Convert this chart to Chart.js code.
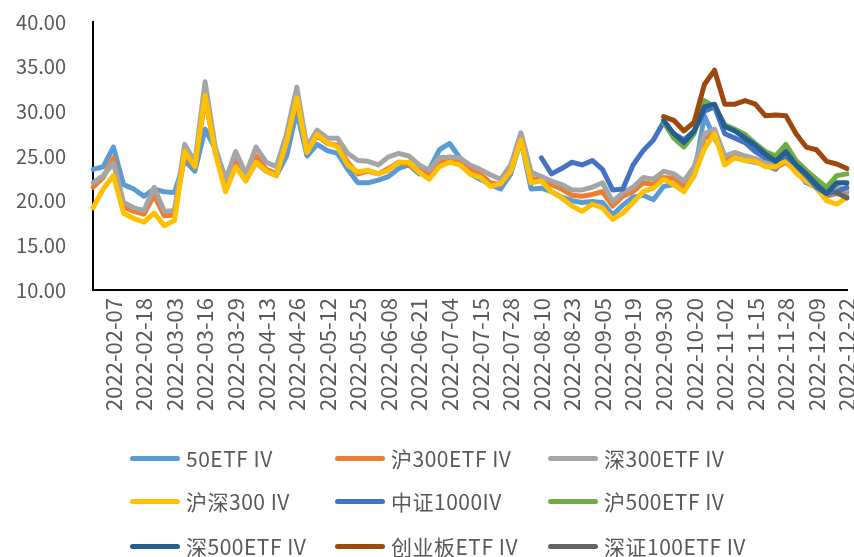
<!DOCTYPE html>
<html>
<head>
<meta charset="utf-8">
<script src="https://cdn.jsdelivr.net/npm/chart.js@4.4.0/dist/chart.umd.min.js"></script>
<style>
html, body { margin: 0; padding: 0; background: #fff; }
#wrap { position: relative; width: 854px; height: 557px; }
#legend { position: absolute; left: 0; top: 0; width: 854px; height: 557px; pointer-events: none;
  font-family: "Noto Sans CJK SC", "Noto Sans", sans-serif; font-size: 21px; letter-spacing: 0.5px; color: #595959; }
.item { position: absolute; display: flex; align-items: center; white-space: nowrap; height: 30px; }
.swatch { display: inline-block; width: 50px; height: 5px; border-radius: 3px; margin-right: 6px; }
</style>
</head>
<body>
<div id="wrap">
  <canvas id="ivChart" width="854" height="557"></canvas>
  <div id="legend"></div>
</div>
<script>
// trading calendar (every 3rd trading day is sampled)
const firstDay = '2022-01-21';
const lastDay = '2022-12-22';
const holidays = ['2022-01-31', '2022-02-01', '2022-02-02', '2022-02-03', '2022-02-04',
  '2022-04-04', '2022-04-05', '2022-05-02', '2022-05-03', '2022-05-04', '2022-06-03',
  '2022-09-12', '2022-10-03', '2022-10-04', '2022-10-05', '2022-10-06', '2022-10-07'];
const sampleStep = 3;

const iv50 = [23.5, 23.8, 26.0, 21.8, 21.3, 20.5, 21.3, 21.0, 20.9, 24.5,
  23.3, 28.0, 25.8, 22.5, 24.0, 22.5, 24.2, 23.3, 22.8, 25.0,
  30.0, 25.0, 26.3, 25.6, 25.3, 23.5, 22.0, 22.0, 22.3, 22.7,
  23.6, 24.0, 23.0, 23.5, 25.7, 26.4, 24.8, 23.0, 22.4, 21.8,
  21.3, 23.0, 26.8, 21.3, 21.4, 21.0, 20.4, 20.0, 19.8, 19.9,
  19.8, 18.4, 19.5, 20.4, 20.6, 20.1, 21.6, 21.8, 21.2, 22.8,
  29.5, 27.0, 25.0, 25.0, 24.5, 24.3, 24.0, 23.5, 24.8, 23.4,
  22.0, 21.5, 20.5, 21.5, 21.0];
const ivH300 = [21.5, 22.6, 24.8, 19.3, 18.8, 18.5, 20.6, 18.3, 18.4, 25.2,
  23.8, 31.5, 25.5, 21.8, 24.5, 22.6, 25.0, 23.5, 23.0, 26.5,
  31.5, 25.5, 27.3, 26.4, 26.2, 24.3, 23.0, 23.3, 23.0, 23.6,
  24.3, 24.0, 23.4, 22.8, 24.2, 24.6, 24.5, 23.6, 23.0, 22.0,
  21.8, 23.6, 27.0, 22.5, 22.3, 21.8, 21.3, 20.6, 20.5, 20.7,
  21.0, 19.4, 20.5, 21.0, 22.0, 21.8, 22.6, 22.5, 21.8, 23.4,
  27.0, 27.5, 24.5, 25.0, 24.6, 24.4, 24.0, 23.7, 24.3, 23.3,
  22.2, 21.5, 20.5, 20.8, 20.5];
const ivS300 = [22.0, 22.8, 24.2, 19.8, 19.2, 18.9, 21.5, 18.8, 18.9, 26.3,
  24.3, 33.3, 26.0, 22.3, 25.5, 23.0, 26.0, 24.3, 23.8, 27.5,
  32.7, 26.0, 27.9, 27.0, 27.0, 25.3, 24.5, 24.4, 24.0, 24.9,
  25.3, 25.0, 24.0, 23.4, 24.8, 24.9, 24.8, 24.0, 23.5, 22.9,
  22.4, 24.0, 27.6, 23.2, 22.7, 22.2, 21.8, 21.2, 21.2, 21.5,
  22.0, 19.9, 20.9, 21.5, 22.6, 22.4, 23.3, 23.0, 22.2, 23.8,
  27.5, 28.0, 25.0, 25.4, 25.0, 24.7, 24.3, 24.0, 24.8, 23.8,
  22.6, 21.8, 21.0, 21.5, 21.2];
const ivHs300 = [19.2, 21.3, 22.8, 18.6, 18.0, 17.6, 18.6, 17.2, 17.8, 25.5,
  23.8, 31.8, 25.3, 21.0, 23.8, 22.2, 24.3, 23.3, 22.8, 26.6,
  31.5, 25.4, 27.4, 26.5, 26.0, 24.0, 23.2, 23.4, 23.0, 23.4,
  24.3, 24.3, 23.2, 22.4, 23.8, 24.3, 24.0, 23.0, 22.6, 21.6,
  21.9, 23.3, 26.8, 22.0, 22.2, 21.0, 20.3, 19.4, 18.8, 19.6,
  19.2, 17.9, 18.6, 19.8, 21.0, 21.4, 22.4, 21.8, 21.0, 22.8,
  25.8, 27.5, 24.0, 24.8, 24.5, 24.4, 23.8, 23.8, 24.5, 23.1,
  22.2, 21.4, 20.0, 19.6, 20.4];
const ivZz1000 = Array(44).fill(null).concat([24.8, 23.0, 23.6, 24.3, 24.0, 24.5,
  23.5, 21.2, 21.3, 24.0, 25.6, 26.8, 28.8, 27.5, 26.8, 27.8,
  30.0, 30.5, 27.5, 27.0, 26.5, 25.5, 24.8, 24.5, 25.0, 24.0,
  22.8, 21.5, 20.8, 21.0, 21.5]);
const ivH500 = Array(56).fill(null).concat([28.8, 27.0, 26.0, 27.5,
  31.2, 30.5, 28.5, 28.0, 27.4, 26.4, 25.5, 25.0, 26.3, 24.5,
  23.4, 22.4, 21.5, 22.8, 23.0]);
const ivS500 = Array(56).fill(null).concat([29.0, 27.5, 26.5, 27.8,
  30.5, 30.8, 28.3, 27.8, 27.0, 26.2, 25.2, 24.4, 25.5, 24.0,
  23.0, 21.8, 20.8, 22.0, 22.0]);
const ivCyb = Array(56).fill(null).concat([29.4, 29.0, 27.8, 28.8,
  33.0, 34.6, 30.8, 30.8, 31.2, 30.8, 29.5, 29.6, 29.5, 27.5,
  26.0, 25.7, 24.4, 24.1, 23.6]);
const ivSz100 = Array(73).fill(null).concat([20.9, 20.3]);

const seriesNames = ['50ETF IV', '沪300ETF IV', '深300ETF IV', '沪深300 IV', '中证1000IV',
  '沪500ETF IV', '深500ETF IV', '创业板ETF IV', '深证100ETF IV'];
const seriesColors = ['#5B9BD5', '#ED7D31', '#A5A5A5', '#FFC000', '#4472C4',
  '#70AD47', '#255E91', '#9E480E', '#636363'];
const seriesData = [iv50, ivH300, ivS300, ivHs300, ivZz1000, ivH500, ivS500, ivCyb, ivSz100];

const yTicks = [10, 15, 20, 25, 30, 35, 40];

// build the sampled date labels
const tradingDays = [];
const d = new Date(firstDay + 'T00:00:00Z');
const end = new Date(lastDay + 'T00:00:00Z');
while (d <= end) {
    const s = d.toISOString().slice(0, 10);
    const wd = d.getUTCDay();
    if (wd !== 0 && wd !== 6 && holidays.indexOf(s) < 0) tradingDays.push(s);
    d.setUTCDate(d.getUTCDate() + 1);
}
const dates = tradingDays.filter((s, i) => i % sampleStep === 0);

const datasets = seriesNames.map((name, i) => ({
    label: name,
    data: seriesData[i],
    borderColor: seriesColors[i],
    backgroundColor: seriesColors[i],
    order: seriesNames.length - i
}));

new Chart(document.getElementById('ivChart').getContext('2d'), {
    type: 'line',
    data: { labels: dates, datasets: datasets },
    options: {
        responsive: false,
        animation: false,
        layout: { padding: { left: 0, right: 7, top: 22, bottom: 0 } },
        elements: {
            point: { radius: 0 },
            line: { borderWidth: 5, tension: 0, borderCapStyle: 'round', borderJoinStyle: 'round' }
        },
        plugins: { legend: { display: false }, tooltip: { enabled: false } },
        scales: {
            x: {
                grid: { display: false, drawTicks: false },
                border: { display: true, color: '#000', width: 2 },
                ticks: {
                    autoSkip: false, maxRotation: 90, minRotation: 90, padding: 8,
                    color: '#595959', font: { family: 'Noto Sans CJK SC', size: 22 },
                    callback: function (v, i) { return i % 3 === 2 ? this.getLabelForValue(v) : null; }
                },
                afterFit: function (s) {
                    s.height = 557 - 290;
                    s.paddingLeft = 0; s.paddingRight = 0;
                }
            },
            y: {
                min: 10, max: 40,
                afterBuildTicks: function (s) { s.ticks = yTicks.map(v => ({ value: v })); },
                grid: { display: false, drawTicks: false },
                border: { display: true, color: '#000', width: 2 },
                ticks: {
                    padding: 27, color: '#595959', font: { family: 'Noto Sans CJK SC', size: 20 },
                    callback: v => v.toFixed(2)
                },
                afterFit: function (s) {
                    s.width = 93;
                    s.paddingTop = 0; s.paddingBottom = 0;
                }
            }
        }
    }
});

// legend in 3 columns like the original
const legendCols = [130, 335, 548];
const legendRows = [458, 501, 546];
const legendBox = document.getElementById('legend');
seriesNames.forEach((name, i) => {
    const item = document.createElement('div');
    item.className = 'item';
    item.style.left = legendCols[i % 3] + 'px';
    item.style.top = (legendRows[Math.floor(i / 3)] - 15) + 'px';
    item.innerHTML = '<span class="swatch" style="background:' + seriesColors[i] + '"></span><span>' + name + '</span>';
    legendBox.appendChild(item);
});
</script>
</body>
</html>
